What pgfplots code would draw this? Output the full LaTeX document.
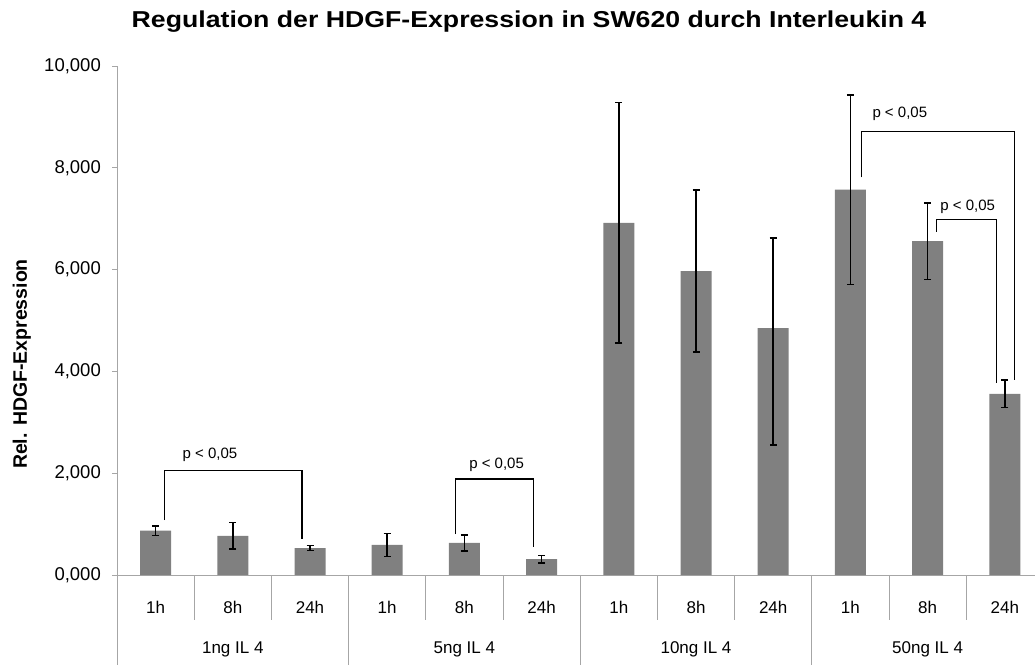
\documentclass[border=0pt]{standalone}
\usepackage{pgfplots}
\pgfplotsset{compat=1.18}
\usepackage{pgfplotstable}
\usepackage{fontspec}
\setmainfont{Liberation Sans}

\definecolor{barfill}{HTML}{808080}
\definecolor{axisgray}{HTML}{A6A6A6}

% Relative HDGF expression, mean with error (plus / minus)
\pgfplotstableread{
x   y     ep     em
0   0.87  0.09   0.09
1   0.77  0.26   0.26
2   0.53  0.05   0.05
3   0.59  0.23   0.23
4   0.63  0.16   0.16
5   0.31  0.075  0.075
6   6.92  2.36   2.36
7   5.97  1.59   1.59
8   4.85  1.77   2.30
9   7.57  1.86   1.86
10  6.56  0.75   0.75
11  3.56  0.27   0.27
}\expr

\begin{document}
\begin{tikzpicture}[x=1pt,y=1pt]
\path[use as bounding box] (0pt,0pt) rectangle (1035pt,664pt);
\clip (0pt,0pt) rectangle (1035pt,664pt);

\node[anchor=base, font=\bfseries\fontsize{23}{23}\selectfont, xscale=1.16]
  at (529pt,636.5pt) {Regulation der HDGF-Expression in SW620 durch Interleukin 4};
\node[anchor=base, rotate=90, font=\bfseries\fontsize{19.5}{19.5}\selectfont]
  at (27pt,300pt) {Rel. HDGF-Expression};

\begin{axis}[
  at={(117pt,89pt)}, anchor=south west,
  scale only axis, width=926.4pt, height=509pt,
  xmin=-0.5, xmax=11.5, ymin=0, ymax=10,
  axis lines*=left,
  axis line style={draw=axisgray, line width=0.8pt},
  clip=false,
  ybar, bar width=31pt,
  xtick={0,...,11},
  xticklabels={1h,8h,24h,1h,8h,24h,1h,8h,24h,1h,8h,24h},
  x tick style={draw=none},
  xticklabel style={anchor=base, inner sep=0pt, yshift=-33pt,
    font=\fontsize{17}{17}\selectfont},
  ytick={0,2,...,10},
  y tick style={draw=axisgray, line width=0.8pt},
  tick align=outside, major tick length=5pt,
  yticklabel style={anchor=east, inner sep=0pt, xshift=-11pt,
    font=\fontsize{18.5}{18.5}\selectfont,
    /pgf/number format/fixed, /pgf/number format/fixed zerofill,
    /pgf/number format/precision=3, /pgf/number format/use comma,
    /pgf/number format/assume math mode=true},
]
\addplot[fill=barfill, draw=none,
  error bars/.cd, y dir=both, y explicit,
  error bar style={black, line width=1.5pt},
  error mark options={black, rotate=90, mark size=3.5pt, line width=1.5pt}]
  table[x=x, y=y, y error plus=ep, y error minus=em] {\expr};

% category separators below the axis
\pgfplotsinvokeforeach{0.5,1.5,3.5,4.5,6.5,7.5,9.5,10.5}{
  \draw[axisgray, line width=0.8pt] (axis cs:#1,0) -- ++(0pt,-45pt);
}
\pgfplotsinvokeforeach{-0.5,2.5,5.5,8.5,11.5}{
  \draw[axisgray, line width=0.8pt] (axis cs:#1,0) -- ++(0pt,-100pt);
}
% group names
\node[anchor=base, font=\fontsize{17}{17}\selectfont, yshift=-78pt] at (axis cs:1,0) {1ng IL 4};
\node[anchor=base, font=\fontsize{17}{17}\selectfont, yshift=-78pt] at (axis cs:4,0) {5ng IL 4};
\node[anchor=base, font=\fontsize{17}{17}\selectfont, yshift=-78pt] at (axis cs:7,0) {10ng IL 4};
\node[anchor=base, font=\fontsize{17}{17}\selectfont, yshift=-78pt] at (axis cs:10,0) {50ng IL 4};

% significance brackets
\draw[black, line width=1.1pt] (axis cs:0.113,1.08) |- (axis cs:1.896,2.06) -- (axis cs:1.896,0.71);
\draw[black, line width=1.1pt] (axis cs:3.89,0.805) |- (axis cs:4.89,1.886) -- (axis cs:4.89,0.544);
\draw[black, line width=1.1pt] (axis cs:9.146,7.81) |- (axis cs:11.12,8.72) -- (axis cs:11.12,3.83);
\draw[black, line width=1.1pt] (axis cs:10.12,6.745) |- (axis cs:10.89,6.99) -- (axis cs:10.89,3.77);
\node[font=\fontsize{15}{15}\selectfont] at (axis cs:0.705,2.36) {p < 0,05};
\node[font=\fontsize{15}{15}\selectfont] at (axis cs:4.417,2.16) {p < 0,05};
\node[font=\fontsize{15}{15}\selectfont] at (axis cs:9.64,9.06) {p < 0,05};
\node[font=\fontsize{15}{15}\selectfont] at (axis cs:10.52,7.24) {p < 0,05};
\end{axis}
\end{tikzpicture}
\end{document}
